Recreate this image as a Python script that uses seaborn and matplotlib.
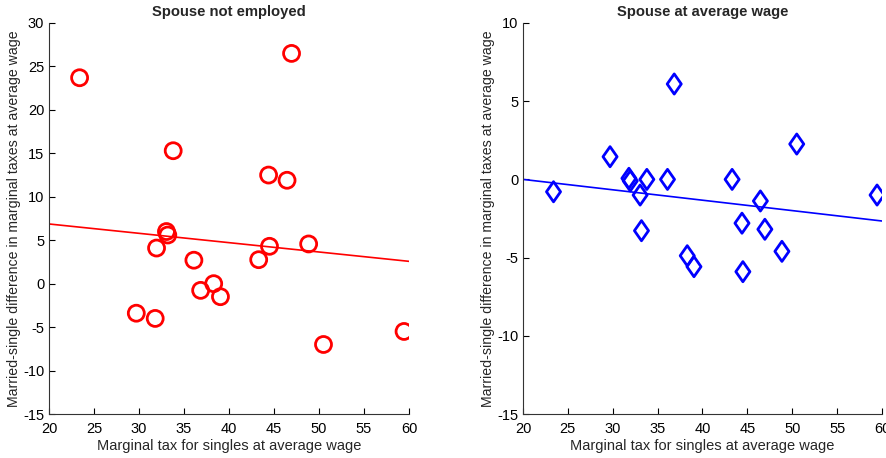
import numpy as np
import pandas as pd
import matplotlib
matplotlib.use("Agg")
import matplotlib.pyplot as plt
from matplotlib.path import Path
import seaborn as sns

# Marginal tax for singles at average wage (same countries in both panels)
single_tax = [23.4, 29.7, 31.8, 31.95, 33.05, 33.2, 33.8, 36.1, 36.85, 38.3,
              39.05, 43.3, 44.4, 44.5, 46.45, 46.95, 48.85, 50.5, 59.45]
# Married-single difference, spouse not employed
diff_not_employed = [23.7, -3.4, -4.0, 4.1, 6.0, 5.6, 15.3, 2.7, -0.77, 0.0,
                     -1.5, 2.76, 12.5, 4.3, 11.9, 26.5, 4.57, -7.0, -5.5]
# Married-single difference, spouse at average wage
diff_avg_wage = [-0.79, 1.45, 0.07, -0.1, -1.0, -3.28, 0.0, 0.0, 6.1, -4.88,
                 -5.58, 0.0, -2.8, -5.9, -1.38, -3.19, -4.6, 2.26, -1.0]

# Fitted trend lines (intercept, slope)
fit_not_employed = [9.02, -0.1075]
fit_avg_wage = [1.33, -0.0665]

titles = ["Spouse not employed", "Spouse at average wage"]
xlabel = "Marginal tax for singles at average wage"
ylabel = "Married-single difference in marginal taxes at average wage"

sns.set_style("ticks")
plt.rcParams["font.family"] = ["Liberation Sans", "DejaVu Sans"]
plt.rcParams["xtick.direction"] = "in"
plt.rcParams["ytick.direction"] = "in"
plt.rcParams["axes.unicode_minus"] = False

# Diamond a bit narrower than it is tall
diamond = Path([(0, 1), (0.7, 0), (0, -1), (-0.7, 0), (0, 1)],
               [Path.MOVETO, Path.LINETO, Path.LINETO, Path.LINETO, Path.CLOSEPOLY])

fig = plt.figure(figsize=(8.87, 4.58), dpi=100)
ax1 = fig.add_axes([49 / 887, 1 - 414 / 458, 360 / 887, 391 / 458])
ax2 = fig.add_axes([523 / 887, 1 - 414 / 458, 359 / 887, 391 / 458])

panels = [
    (ax1, diff_not_employed, fit_not_employed, "red", "o", 11.5,
     (-15, 30), np.arange(-15, 31, 5)),
    (ax2, diff_avg_wage, fit_avg_wage, "blue", diamond, 14.5,
     (-15, 10), np.arange(-15, 11, 5)),
]

xfit = np.array([20.0, 60.0])
for ax, yvals, coef, color, marker, msize, ylim, yticks in panels:
    df = pd.DataFrame({"x": single_tax, "y": yvals})
    fit = pd.DataFrame({"x": xfit, "y": coef[0] + coef[1] * xfit})
    sns.lineplot(data=fit, x="x", y="y", ax=ax, color=color, linewidth=1.2)
    sns.scatterplot(data=df, x="x", y="y", ax=ax, marker=marker,
                    s=msize ** 2, facecolor="none", edgecolor=color,
                    linewidth=2, zorder=3)
    ax.set_xlim(20, 60)
    ax.set_ylim(*ylim)
    ax.set_xticks(np.arange(20, 61, 5))
    ax.set_yticks(yticks)
    ax.tick_params(labelsize=10.5, length=4, width=0.8, colors="black")
    ax.tick_params(axis="x", pad=6)
    ax.set_xlabel(xlabel, fontsize=10.5, labelpad=2)
    ax.set_ylabel(ylabel, fontsize=10.2, labelpad=1)
    for side in ("top", "right"):
        ax.spines[side].set_visible(False)
    for side in ("left", "bottom"):
        ax.spines[side].set_linewidth(0.8)
        ax.spines[side].set_color("#333333")

ax1.set_title(titles[0], fontsize=10.6, fontweight="bold", pad=5)
ax2.set_title(titles[1], fontsize=10.6, fontweight="bold", pad=5)

fig.savefig("out.png", dpi=100)
